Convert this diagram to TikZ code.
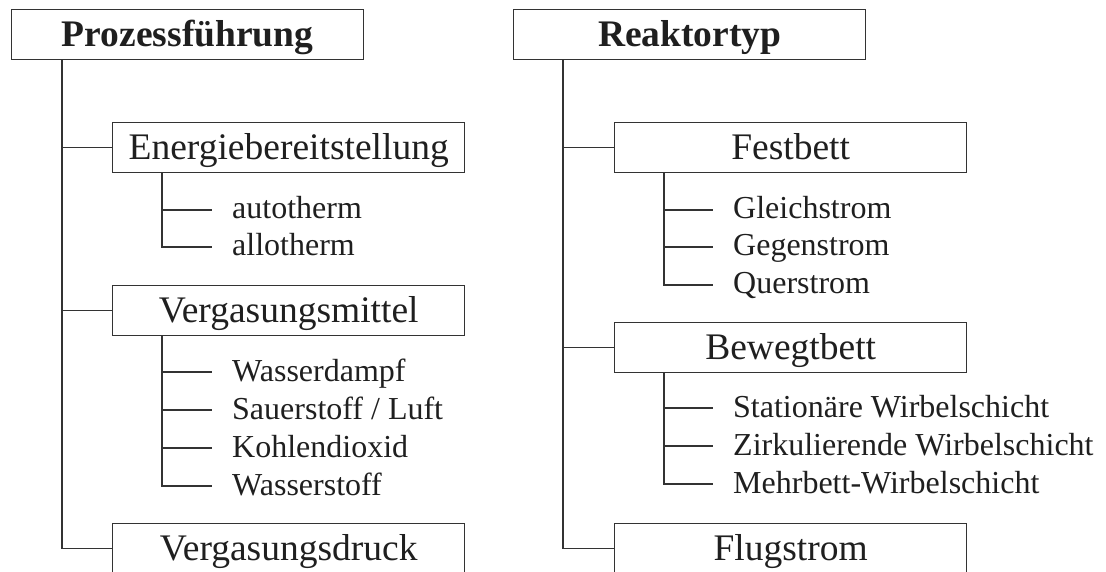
\documentclass[tikz,border=0pt]{standalone}
\usepackage{fontspec}
\setmainfont{Liberation Serif}
\begin{document}
\begin{tikzpicture}[x=1pt,y=-1pt,
  conn/.style={draw=black!80, line width=1.4pt},
  catbox/.style={draw=black!80, line width=1.4pt, rectangle, minimum width=352pt, minimum height=50pt,
    inner sep=0pt, text height=23pt, text depth=0pt, anchor=north west, text=black!88,
    font=\fontsize{37.5}{40}\selectfont},
  topbox/.style={catbox, font=\fontsize{37.5}{40}\selectfont\bfseries},
  item/.style={inner ysep=0pt, inner xsep=20pt, text height=18pt, text depth=0pt, anchor=base west,
    text=black!88, font=\fontsize{32}{34}\selectfont}]
\useasboundingbox (0,0) rectangle (1106,572);
\clip (0,0) rectangle (1106,572);
% left tree
\node[topbox] (pf) at (11,9) {Prozessführung};
\node[catbox] (eb) at (112,122) {Energiebereitstellung};
\node[catbox] (vm) at (112,285) {Vergasungsmittel};
\node[catbox] (vd) at (112,523) {Vergasungsdruck};
\node[item] (a1) at (212,219) {autotherm};
\node[item] (a2) at (212,256) {allotherm};
\node[item] (v1) at (212,381) {Wasserdampf};
\node[item] (v2) at (212,419) {Sauerstoff / Luft};
\node[item] (v3) at (212,457) {Kohlendioxid};
\node[item] (v4) at (212,495) {Wasserstoff};
\coordinate (L) at (62,0);
\coordinate (Ls) at (162,0);
\draw[conn] (pf.south -| L) |- (vd.west);
\draw[conn] (pf.south -| L) |- (eb.west);
\draw[conn] (pf.south -| L) |- (vm.west);
\draw[conn] (eb.south -| Ls) |- (a2.west);
\draw[conn] (eb.south -| Ls) |- (a1.west);
\draw[conn] (vm.south -| Ls) |- (v4.west);
\draw[conn] (vm.south -| Ls) |- (v1.west);
\draw[conn] (vm.south -| Ls) |- (v2.west);
\draw[conn] (vm.south -| Ls) |- (v3.west);
% right tree
\node[topbox] (rt) at (513,9) {Reaktortyp};
\node[catbox] (fb) at (614,122) {Festbett};
\node[catbox] (bb) at (614,322) {Bewegtbett};
\node[catbox] (fs) at (614,523) {Flugstrom};
\node[item] (f1) at (713,219) {Gleichstrom};
\node[item] (f2) at (713,256) {Gegenstrom};
\node[item] (f3) at (713,294) {Querstrom};
\node[item] (b1) at (713,417) {Stationäre Wirbelschicht};
\node[item] (b2) at (713,455) {Zirkulierende Wirbelschicht};
\node[item] (b3) at (713,493) {Mehrbett-Wirbelschicht};
\coordinate (R) at (563,0);
\coordinate (Rs) at (664,0);
\draw[conn] (rt.south -| R) |- (fs.west);
\draw[conn] (rt.south -| R) |- (fb.west);
\draw[conn] (rt.south -| R) |- (bb.west);
\draw[conn] (fb.south -| Rs) |- (f3.west);
\draw[conn] (fb.south -| Rs) |- (f1.west);
\draw[conn] (fb.south -| Rs) |- (f2.west);
\draw[conn] (bb.south -| Rs) |- (b3.west);
\draw[conn] (bb.south -| Rs) |- (b1.west);
\draw[conn] (bb.south -| Rs) |- (b2.west);
\end{tikzpicture}
\end{document}
